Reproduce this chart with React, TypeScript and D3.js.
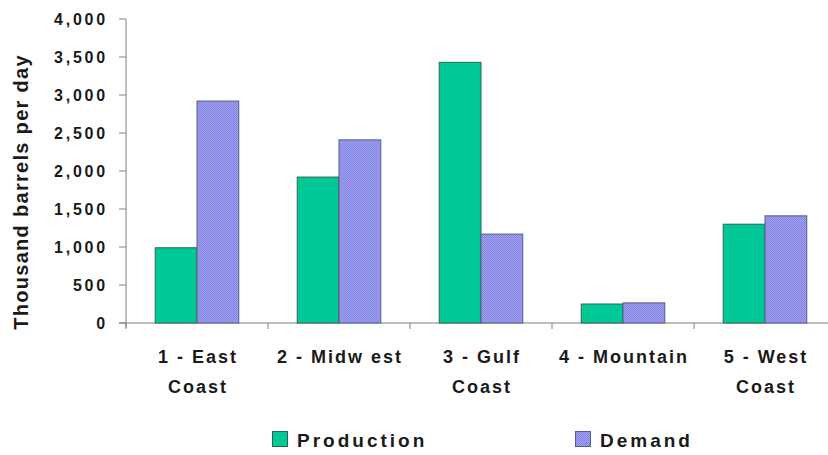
import React from "react";
import * as d3 from "d3";

const regions = ["1 - East Coast", "2 - Midwest", "3 - Gulf Coast", "4 - Mountain", "5 - West Coast"];
const regionLines = [["1 - East", "Coast"], ["2 - Midw est"], ["3 - Gulf", "Coast"], ["4 - Mountain"], ["5 - West", "Coast"]];
const production = [990, 1920, 3430, 250, 1300];
const demand = [2920, 2410, 1170, 265, 1410];
const yTicks = [0, 500, 1000, 1500, 2000, 2500, 3000, 3500, 4000];
const seriesNames = ["Production", "Demand"];

const W = 828;
const H = 455;
const left = 126;
const right = 836;
const top = 19;
const bottom = 323;
const font = "'Liberation Sans', Arial, sans-serif";
const ink = "#1a1a1a";

export default function App() {
  const y = d3.scaleLinear().domain([0, 4000]).range([bottom, top]);
  const x = d3.scaleBand<string>().domain(regions).range([left, right]).paddingInner(0).paddingOuter(0);
  const inner = d3.scaleBand<string>().domain(seriesNames).range([0, x.bandwidth()]).paddingInner(0).paddingOuter(0.7);
  const fmt = d3.format(",");

  return (
    <svg width={W} height={H} style={{ position: "absolute", left: 0, top: 0, background: "#fff" }}>
      <defs>
        <pattern id="demandFill" width="2" height="2" patternUnits="userSpaceOnUse">
          <rect width="2" height="2" fill="#a0a0f2" />
          <rect width="1" height="1" fill="#8585e2" />
          <rect x="1" y="1" width="1" height="1" fill="#8585e2" />
        </pattern>
      </defs>

      {/* y axis */}
      <line x1={left} x2={left} y1={top} y2={bottom + 5} stroke="#808080" strokeWidth={1} />
      {yTicks.map((t) => (
        <g key={t}>
          <line x1={left - 7} x2={left} y1={y(t)} y2={y(t)} stroke="#808080" />
          <text x={108} y={y(t) + 6} textAnchor="end" fontFamily={font} fontWeight="bold" fontSize={16} fill={ink} letterSpacing={2.8}>
            {fmt(t)}
          </text>
        </g>
      ))}
      <text
        transform={`translate(28, 192) rotate(-90)`}
        textAnchor="middle"
        fontFamily={font}
        fontWeight="bold"
        fontSize={20}
        fill={ink}
        letterSpacing={1.3}
      >
        Thousand barrels per day
      </text>

      {/* x axis */}
      <line x1={left - 7} x2={right} y1={bottom} y2={bottom} stroke="#808080" />
      {regions.map((r) => (
        <line key={r} x1={x(r)!} x2={x(r)!} y1={bottom} y2={bottom + 6} stroke="#808080" />
      ))}

      {/* bars */}
      {regions.map((r, i) => (
        <g key={r}>
          <rect
            x={x(r)! + inner("Production")!}
            y={y(production[i])}
            width={inner.bandwidth()}
            height={bottom - y(production[i])}
            fill="#00c896"
            stroke="#2a6652"
            strokeWidth={1}
          />
          <rect
            x={x(r)! + inner("Demand")!}
            y={y(demand[i])}
            width={inner.bandwidth()}
            height={bottom - y(demand[i])}
            fill="url(#demandFill)"
            stroke="#5a5a86"
            strokeWidth={1}
          />
        </g>
      ))}

      {/* category labels */}
      {regions.map((r, i) => (
        <text key={r} textAnchor="middle" fontFamily={font} fontWeight="bold" fontSize={18} fill={ink} letterSpacing={2}>
          {regionLines[i].map((ln, j) => (
            <tspan key={j} x={x(r)! + x.bandwidth() / 2 + 1} y={363 + j * 30}>
              {ln}
            </tspan>
          ))}
        </text>
      ))}

      {/* legend */}
      <rect x={272.5} y={431.5} width={15} height={15} fill="#00c896" stroke="#2a6652" />
      <text x={297} y={447} fontFamily={font} fontWeight="bold" fontSize={19} fill={ink} letterSpacing={3}>
        Production
      </text>
      <rect x={575.5} y={431.5} width={15} height={15} fill="url(#demandFill)" stroke="#5a5a86" />
      <text x={600} y={447} fontFamily={font} fontWeight="bold" fontSize={19} fill={ink} letterSpacing={3}>
        Demand
      </text>
    </svg>
  );
}
